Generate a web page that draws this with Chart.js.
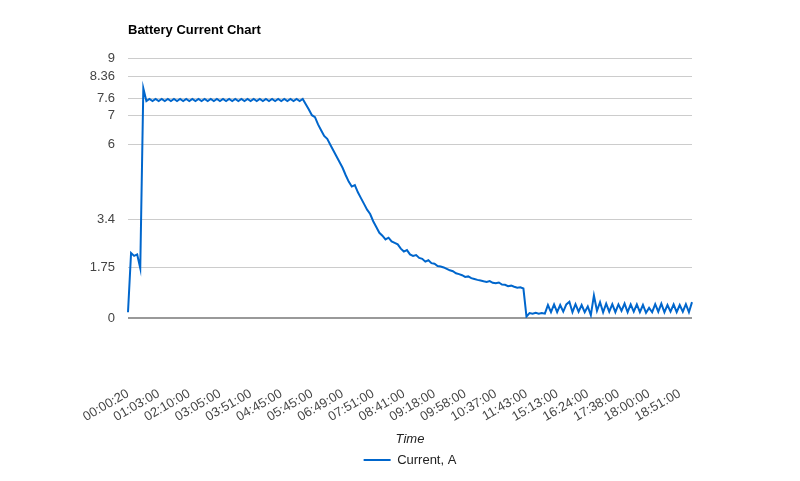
<!DOCTYPE html>
<html>
<head>
<meta charset="utf-8">
<script src="https://cdn.jsdelivr.net/npm/chart.js@4/dist/chart.umd.min.js"></script>
<style>
  html, body { margin: 0; padding: 0; background: #ffffff; }
  #wrap { width: 800px; height: 481px; }
</style>
</head>
<body>
<div id="wrap"><canvas id="c" width="800" height="481"></canvas></div>
<script>
const chartTitle = 'Battery Current Chart';
const seriesName = 'Current, A';
const axisTitle = 'Time';

const timeLabels = [
  '00:00:20', '01:03:00', '02:10:00', '03:05:00', '03:51:00', '04:45:00',
  '05:45:00', '06:49:00', '07:51:00', '08:41:00', '09:18:00', '09:58:00',
  '10:37:00', '11:43:00', '15:13:00', '16:24:00', '17:38:00', '18:00:00', '18:51:00'
];

const yTicks = [0, 1.75, 3.4, 6, 7, 7.6, 8.36, 9];

const labelEvery = 10;

const current = [
  0.2, 2.25, 2.15, 2.2, 1.72, 7.95,
  7.51, 7.58, 7.51, 7.58, 7.51, 7.58, 7.51, 7.58, 7.51, 7.58,
  7.51, 7.58, 7.51, 7.58, 7.51, 7.58, 7.51, 7.58, 7.51, 7.58,
  7.51, 7.58, 7.51, 7.58, 7.51, 7.58, 7.51, 7.58, 7.51, 7.58,
  7.51, 7.58, 7.51, 7.58, 7.51, 7.58, 7.51, 7.58, 7.51, 7.58,
  7.51, 7.58, 7.51, 7.58, 7.51, 7.58, 7.51, 7.58, 7.51, 7.58,
  7.51, 7.58,
  7.4, 7.22, 7.02, 6.95, 6.7, 6.5, 6.3, 6.2, 6.0, 5.8,
  5.6, 5.4, 5.2, 4.95, 4.72, 4.55, 4.6, 4.35, 4.15, 3.95,
  3.75, 3.6, 3.35, 3.15, 2.95, 2.85, 2.72, 2.78, 2.65, 2.6,
  2.55, 2.4, 2.3, 2.35, 2.2, 2.15, 2.18, 2.08, 2.05, 1.95,
  2.0, 1.9, 1.88, 1.8, 1.78, 1.75, 1.7, 1.65, 1.62, 1.55,
  1.52, 1.48, 1.42, 1.44, 1.38, 1.35, 1.32, 1.3, 1.27, 1.25,
  1.28, 1.22, 1.2, 1.23, 1.16, 1.15, 1.1, 1.12, 1.08, 1.05,
  1.06, 1.02,
  0.05, 0.17, 0.15, 0.18, 0.15, 0.17, 0.15,
  0.45, 0.2, 0.47, 0.2, 0.45, 0.22, 0.47, 0.56, 0.2, 0.48,
  0.22, 0.45, 0.2, 0.4, 0.1, 0.78, 0.25, 0.55, 0.2, 0.5,
  0.22, 0.48, 0.2, 0.47, 0.25, 0.5, 0.2, 0.47, 0.22, 0.47,
  0.2, 0.45, 0.18, 0.35, 0.2, 0.48, 0.22, 0.5, 0.2, 0.45,
  0.22, 0.47, 0.2, 0.45, 0.22, 0.48, 0.2, 0.55
];

const categories = current.map((v, i) => (i % labelEvery === 0 ? timeLabels[i / labelEvery] : ''));

const FONT = "Arial, 'Liberation Sans', sans-serif";
const lineColor = '#0066cc';

new Chart(document.getElementById('c'), {
  type: 'line',
  data: {
    labels: categories,
    datasets: [{
      label: seriesName,
      data: current,
      borderColor: lineColor,
      backgroundColor: lineColor,
      borderWidth: 2,
      pointRadius: 0,
      pointHoverRadius: 0,
      tension: 0,
      fill: false
    }]
  },
  options: {
    responsive: false,
    animation: false,
    devicePixelRatio: 1,
    layout: { padding: { left: 0, right: 108, top: 0, bottom: 4.5 } },
    plugins: {
      title: {
        display: true,
        text: chartTitle,
        align: 'start',
        fullSize: false,
        color: '#000000',
        font: { family: FONT, size: 13, weight: 'bold' },
        padding: { top: 22.7, bottom: 19.7 }
      },
      legend: {
        position: 'bottom',
        fullSize: false,
        labels: {
          usePointStyle: true,
          pointStyle: 'line',
          pointStyleWidth: 27,
          padding: 8,
          color: '#222222',
          font: { family: FONT, size: 13 }
        }
      },
      tooltip: { enabled: false }
    },
    scales: {
      x: {
        type: 'category',
        offset: false,
        grid: { display: false, drawTicks: false },
        border: { display: false },
        ticks: {
          autoSkip: false,
          minRotation: 30,
          maxRotation: 30,
          padding: 68,
          color: '#444444',
          font: { family: FONT, size: 13 }
        },
        title: {
          display: true,
          text: axisTitle,
          color: '#222222',
          font: { family: FONT, size: 13, style: 'italic' },
          padding: { top: 0, bottom: -2 }
        },
        afterBuildTicks: (s) => { s.ticks = s.ticks.filter(t => t.value % labelEvery === 0); },
        afterFit: (s) => { s.height = 127.5; }
      },
      y: {
        min: 0,
        max: 9,
        afterBuildTicks: (s) => { s.ticks = yTicks.map(v => ({ value: v })); },
        afterFit: (s) => { s.width = 128; },
        grid: {
          drawTicks: false,
          color: (ctx) => (ctx.tick && ctx.tick.value === 0 ? '#999999' : '#cccccc'),
          lineWidth: (ctx) => (ctx.tick && ctx.tick.value === 0 ? 2 : 1)
        },
        border: { display: false },
        ticks: {
          padding: 13,
          color: '#444444',
          font: { family: FONT, size: 13 },
          callback: (v) => String(v)
        }
      }
    }
  }
});
</script>
</body>
</html>
